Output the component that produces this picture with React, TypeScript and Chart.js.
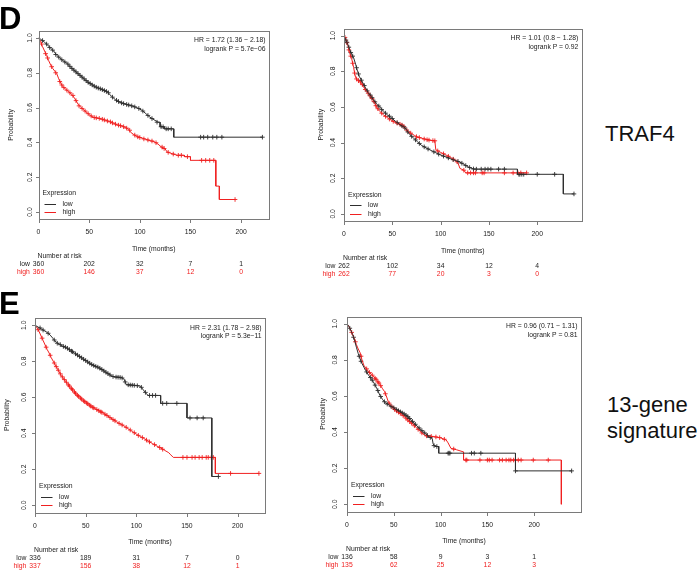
import React, { useEffect, useRef } from "react";
import { Chart, registerables } from "chart.js";

Chart.register(...registerables);

type Pt = [number, number];

// ---------- shared axis data ----------
const X_TICKS = [0, 50, 100, 150, 200];
const Y_TICKS = [0, 0.2, 0.4, 0.6, 0.8, 1.0];
const Y_TICK_LABELS = ["0.0", "0.2", "0.4", "0.6", "0.8", "1.0"];
const GROUP_LABELS = ["low", "high"];

// ---------- Panel D, left (TRAF4) ----------
const dLeftLow: Pt[] = [[0,1],[3,0.99],[6,0.975],[9,0.96],[12,0.94],[15,0.925],[18,0.9],[21,0.885],[24,0.87],[28,0.855],[32,0.83],[36,0.81],[40,0.79],[44,0.77],[48,0.75],[52,0.735],[56,0.72],[60,0.71],[64,0.7],[68,0.69],[72,0.665],[76,0.645],[80,0.63],[86,0.62],[92,0.61],[97,0.6],[102,0.585],[106,0.565],[110,0.545],[114,0.53],[118,0.516],[120,0.516],[120,0.49],[124,0.49],[124,0.478],[133.5,0.478],[133.5,0.43],[221,0.43]];
const dLeftHigh: Pt[] = [[0,1],[2,0.98],[4,0.95],[6,0.925],[8,0.9],[10,0.87],[12,0.845],[14,0.825],[16,0.81],[18,0.795],[20,0.765],[22,0.74],[24,0.72],[27,0.705],[30,0.69],[33,0.675],[36,0.65],[39,0.62],[42,0.6],[45,0.585],[48,0.57],[51,0.555],[54,0.545],[58,0.54],[62,0.535],[66,0.527],[70,0.52],[74,0.51],[78,0.5],[82,0.495],[86,0.485],[89,0.475],[91,0.458],[94,0.445],[98,0.432],[102,0.425],[106,0.418],[110,0.41],[114,0.405],[118,0.39],[121,0.375],[125,0.362],[127,0.345],[132,0.335],[137,0.326],[144,0.326],[144,0.318],[150,0.318],[150,0.297],[175,0.297],[175,0.149],[178.5,0.149],[178.5,0.072],[194,0.072]];
const dLeftLowCens: Pt[] = [[4,0.985],[8,0.965],[11,0.945],[14,0.93],[17,0.905],[20,0.89],[23,0.875],[26,0.862],[29,0.85],[31,0.837],[33,0.825],[35,0.815],[37,0.805],[39,0.795],[41,0.785],[43,0.775],[45,0.765],[47,0.755],[49,0.745],[51,0.738],[53,0.73],[55,0.723],[57,0.717],[59,0.712],[61,0.708],[63,0.703],[65,0.698],[67,0.693],[69,0.685],[73,0.66],[77,0.642],[79,0.635],[82,0.627],[84,0.623],[87,0.618],[89,0.615],[92,0.61],[95,0.604],[99,0.595],[103,0.58],[108,0.555],[112,0.537],[117,0.516],[121,0.49],[123,0.49],[126,0.478],[128,0.478],[131,0.478],[160,0.43],[163,0.43],[167,0.43],[172,0.43],[176,0.43],[181,0.43],[221,0.43]];
const dLeftHighCens: Pt[] = [[3,0.965],[7,0.91],[9,0.885],[13,0.835],[17,0.8],[21,0.75],[23,0.73],[25,0.715],[28,0.7],[31,0.685],[34,0.67],[37,0.64],[40,0.61],[43,0.595],[46,0.58],[49,0.565],[52,0.552],[55,0.543],[57,0.541],[60,0.538],[63,0.533],[65,0.529],[68,0.523],[71,0.518],[73,0.512],[76,0.505],[79,0.499],[81,0.496],[84,0.49],[87,0.482],[90,0.47],[95,0.442],[98,0.432],[100,0.428],[104,0.42],[108,0.414],[112,0.408],[116,0.398],[122,0.373],[124,0.365],[128,0.343],[133,0.333],[138,0.326],[141,0.326],[147,0.318],[161,0.297],[165,0.297],[169,0.297],[173,0.297],[194,0.072]];
const dLeftRiskLow = [360, 202, 32, 7, 1];
const dLeftRiskHigh = [360, 146, 37, 12, 0];
const dLeftStats = ["HR = 1.72 (1.36 \u2212 2.18)", "logrank P = 5.7e\u221206"];

// ---------- Panel D, right (TRAF4) ----------
const dRightLow: Pt[] = [[0,1],[2,0.975],[4,0.95],[6,0.92],[8,0.895],[10,0.875],[12,0.84],[14,0.8],[16,0.77],[19,0.74],[22,0.71],[25,0.68],[28,0.66],[31,0.635],[34,0.615],[37,0.6],[41,0.575],[45,0.555],[49,0.54],[53,0.52],[58,0.5],[62,0.488],[65,0.47],[68,0.445],[72,0.425],[76,0.405],[80,0.385],[85,0.37],[90,0.356],[95,0.343],[100,0.33],[105,0.32],[110,0.31],[115,0.3],[120,0.29],[124,0.278],[128,0.265],[132,0.255],[135,0.251],[179.5,0.251],[179.5,0.222],[227,0.222],[227,0.112],[238,0.112]];
const dRightHigh: Pt[] = [[0,1],[2,0.98],[4,0.945],[6,0.9],[8,0.87],[10,0.82],[11,0.79],[12,0.765],[14,0.75],[16,0.745],[18,0.735],[20,0.715],[23,0.69],[26,0.67],[28,0.655],[30,0.64],[32,0.62],[34,0.595],[37,0.575],[41,0.555],[45,0.54],[49,0.525],[53,0.513],[57,0.505],[61,0.495],[64,0.475],[67,0.46],[70,0.45],[73,0.44],[76,0.43],[80,0.425],[85,0.418],[90,0.412],[94,0.41],[95,0.36],[100,0.345],[105,0.332],[110,0.318],[115,0.3],[118,0.285],[120,0.255],[124,0.245],[126,0.23],[189,0.23]];
const dRightLowCens: Pt[] = [[2,0.975],[3,0.963],[5,0.935],[7,0.905],[9,0.885],[13,0.82],[15,0.785],[18,0.75],[21,0.72],[24,0.69],[27,0.667],[29,0.652],[32,0.628],[36,0.605],[39,0.585],[43,0.565],[47,0.548],[50,0.535],[55,0.512],[60,0.494],[63,0.482],[66,0.46],[70,0.435],[74,0.415],[78,0.395],[83,0.376],[87,0.364],[93,0.348],[98,0.335],[103,0.324],[108,0.314],[113,0.304],[118,0.294],[122,0.284],[126,0.271],[130,0.26],[134,0.252],[137,0.251],[142,0.251],[146,0.251],[149,0.251],[152,0.251],[160,0.251],[166,0.251],[181,0.222],[182,0.222],[184,0.222],[186,0.222],[200,0.222],[218,0.222],[238,0.112]];
const dRightHighCens: Pt[] = [[1,0.99],[3,0.96],[5,0.92],[7,0.885],[9,0.845],[11,0.79],[13,0.757],[15,0.747],[17,0.74],[19,0.725],[22,0.698],[25,0.677],[27,0.662],[29,0.647],[31,0.63],[33,0.607],[35,0.59],[39,0.565],[43,0.547],[47,0.532],[51,0.519],[55,0.509],[58,0.503],[60,0.498],[62,0.49],[65,0.47],[69,0.453],[75,0.433],[78,0.428],[83,0.42],[86,0.416],[88,0.414],[92,0.411],[94,0.41],[97,0.353],[103,0.337],[108,0.323],[113,0.307],[117,0.292],[124,0.245],[128,0.23],[131,0.23],[134,0.23],[136,0.23],[143,0.23],[145,0.23],[166,0.23],[175,0.23],[180,0.23],[183,0.23],[189,0.23]];
const dRightRiskLow = [262, 102, 34, 12, 4];
const dRightRiskHigh = [262, 77, 20, 3, 0];
const dRightStats = ["HR = 1.01 (0.8 \u2212 1.28)", "logrank P = 0.92"];

// ---------- Panel E, left (13-gene signature) ----------
const eLeftLow: Pt[] = [[0,1],[3,0.99],[6,0.98],[9,0.97],[12,0.96],[15,0.945],[18,0.925],[21,0.905],[24,0.895],[27,0.885],[31,0.875],[35,0.86],[39,0.845],[43,0.83],[47,0.815],[51,0.8],[55,0.785],[59,0.773],[63,0.765],[67,0.75],[71,0.735],[75,0.72],[78,0.713],[85,0.71],[88,0.7],[90,0.67],[100,0.665],[104,0.662],[107,0.64],[110,0.62],[111.5,0.61],[124,0.61],[124,0.566],[150,0.566],[150,0.485],[174.5,0.485],[174.5,0.16],[181,0.16]];
const eLeftHigh: Pt[] = [[0,1],[2,0.985],[4,0.965],[6,0.94],[8,0.915],[10,0.89],[12,0.865],[14,0.845],[16,0.82],[18,0.8],[20,0.78],[22,0.76],[24,0.74],[26,0.72],[28,0.705],[30,0.69],[32,0.675],[35,0.655],[38,0.635],[41,0.615],[44,0.6],[47,0.585],[50,0.572],[53,0.56],[56,0.547],[60,0.535],[64,0.522],[68,0.51],[72,0.495],[76,0.48],[80,0.465],[84,0.452],[88,0.44],[92,0.425],[96,0.41],[100,0.395],[104,0.382],[108,0.37],[112,0.355],[116,0.343],[120,0.33],[124,0.318],[128,0.305],[132,0.292],[134,0.28],[136.5,0.266],[178,0.266],[178,0.177],[221,0.177]];
const eLeftLowCens: Pt[] = [[5,0.985],[8,0.973],[13,0.955],[19,0.918],[22,0.9],[25,0.892],[28,0.882],[30,0.878],[32,0.872],[34,0.864],[36,0.856],[37,0.853],[40,0.841],[42,0.834],[44,0.826],[46,0.819],[48,0.811],[50,0.804],[52,0.796],[54,0.789],[56,0.782],[58,0.776],[60,0.771],[62,0.767],[64,0.761],[66,0.754],[68,0.746],[70,0.739],[72,0.731],[74,0.724],[77,0.715],[80,0.712],[82,0.711],[84,0.71],[86,0.707],[89,0.685],[92,0.669],[94,0.668],[96,0.667],[98,0.666],[101,0.664],[105,0.655],[109,0.627],[113,0.61],[116,0.61],[119,0.61],[126,0.566],[130,0.566],[140,0.566],[153,0.485],[160,0.485],[166,0.485],[181,0.16]];
const eLeftHighCens: Pt[] = [[3,0.975],[7,0.928],[11,0.878],[15,0.833],[19,0.79],[21,0.77],[23,0.75],[25,0.73],[27,0.713],[29,0.698],[31,0.683],[33,0.668],[34,0.662],[36,0.648],[37,0.642],[39,0.628],[40,0.622],[42,0.61],[43,0.605],[45,0.595],[46,0.59],[48,0.58],[49,0.576],[51,0.568],[52,0.564],[54,0.556],[55,0.551],[57,0.544],[58,0.541],[61,0.532],[63,0.525],[65,0.519],[66,0.516],[69,0.506],[71,0.499],[74,0.487],[77,0.476],[79,0.469],[83,0.455],[86,0.446],[90,0.433],[94,0.418],[98,0.403],[102,0.388],[106,0.376],[110,0.362],[113,0.352],[118,0.337],[123,0.321],[126,0.311],[146,0.266],[150,0.266],[155,0.266],[158,0.266],[162,0.266],[165,0.266],[169,0.266],[171,0.266],[174,0.266],[176,0.266],[193,0.177],[221,0.177]];
const eLeftRiskLow = [336, 189, 31, 7, 0];
const eLeftRiskHigh = [337, 156, 38, 12, 1];
const eLeftStats = ["HR = 2.31 (1.78 \u2212 2.98)", "logrank P = 5.3e\u221211"];

// ---------- Panel E, right (13-gene signature) ----------
const eRightLow: Pt[] = [[0,1],[2,0.985],[4,0.965],[6,0.94],[8,0.91],[10,0.87],[12,0.835],[14,0.805],[16,0.78],[18,0.76],[20,0.74],[23,0.715],[26,0.695],[29,0.67],[32,0.64],[35,0.605],[38,0.58],[41,0.562],[44,0.553],[48,0.54],[52,0.527],[56,0.515],[60,0.503],[64,0.49],[68,0.47],[72,0.448],[76,0.428],[80,0.408],[84,0.39],[88,0.372],[91,0.365],[92,0.335],[94,0.32],[98,0.32],[98,0.283],[180,0.283],[180,0.185],[240,0.185]];
const eRightHigh: Pt[] = [[0,1],[2,0.985],[4,0.965],[6,0.94],[8,0.915],[10,0.885],[12,0.86],[14,0.84],[16,0.8],[18,0.77],[20,0.755],[23,0.735],[26,0.72],[29,0.705],[32,0.685],[35,0.665],[38,0.64],[40,0.625],[42,0.6],[44,0.57],[47,0.545],[50,0.53],[54,0.513],[58,0.5],[62,0.482],[66,0.462],[70,0.445],[74,0.425],[78,0.405],[81,0.39],[84,0.38],[92,0.375],[100,0.368],[106,0.356],[108,0.34],[111,0.31],[117,0.302],[124.5,0.29],[124.5,0.245],[229,0.245],[229,0]];
const eRightLowCens: Pt[] = [[3,0.975],[7,0.925],[13,0.82],[15,0.792],[21,0.733],[25,0.702],[27,0.687],[30,0.66],[33,0.63],[36,0.597],[40,0.568],[43,0.555],[47,0.543],[50,0.534],[53,0.524],[55,0.518],[57,0.512],[59,0.506],[61,0.5],[63,0.493],[65,0.485],[67,0.475],[70,0.459],[73,0.443],[77,0.423],[80,0.408],[83,0.395],[86,0.381],[89,0.37],[93,0.325],[96,0.32],[108,0.283],[109,0.283],[110,0.283],[133,0.283],[136,0.283],[143,0.283],[180,0.185],[240,0.185]];
const eRightHighCens: Pt[] = [[5,0.952],[9,0.9],[15,0.82],[21,0.75],[24,0.73],[27,0.715],[30,0.698],[31,0.692],[33,0.678],[34,0.672],[36,0.657],[41,0.612],[45,0.56],[48,0.54],[51,0.525],[53,0.517],[55,0.51],[57,0.503],[60,0.491],[63,0.477],[65,0.467],[67,0.458],[69,0.449],[72,0.435],[76,0.415],[80,0.395],[85,0.379],[90,0.376],[95,0.373],[99,0.369],[104,0.36],[114,0.306],[127,0.245],[128,0.245],[142,0.245],[150,0.245],[152,0.245],[155,0.245],[163,0.245],[166,0.245],[170,0.245],[173,0.245],[175,0.245],[178,0.245],[180,0.245],[183,0.245],[186,0.245],[199,0.245],[215,0.245]];
const eRightRiskLow = [136, 58, 9, 3, 1];
const eRightRiskHigh = [135, 62, 25, 12, 3];
const eRightStats = ["HR = 0.96 (0.71 \u2212 1.31)", "logrank P = 0.81"];

// ---------- styling ----------
const FONT = '"Liberation Sans", Arial, Helvetica, sans-serif';
const SMALL = `6.8px ${FONT}`;
const TEXT = "#222";
const BOX = "#7a7a7a";
const LOW_COL = "#2e2e2e";
const HIGH_COL = "#f02020";

type PanelSpec = {
  cx: number; cy: number; w: number; h: number;
  L: number; T: number; R: number; B: number; xMax: number;
  yLab: number; probX: number;
  low: Pt[]; high: Pt[]; lowCens: Pt[]; highCens: Pt[];
  riskLow: number[]; riskHigh: number[]; stats: string[];
};

const PANELS: PanelSpec[] = [
  { cx: 0, cy: 0, w: 300, h: 280, L: 38.5, T: 31, R: 269, B: 219, xMax: 227.5, yLab: 8.5, probX: 27,
    low: dLeftLow, high: dLeftHigh, lowCens: dLeftLowCens, highCens: dLeftHighCens,
    riskLow: dLeftRiskLow, riskHigh: dLeftRiskHigh, stats: dLeftStats },
  { cx: 300, cy: 0, w: 300, h: 280, L: 344, T: 28.5, R: 581.7, B: 221, xMax: 246, yLab: 10.5, probX: 23,
    low: dRightLow, high: dRightHigh, lowCens: dRightLowCens, highCens: dRightHighCens,
    riskLow: dRightRiskLow, riskHigh: dRightRiskHigh, stats: dRightStats },
  { cx: 0, cy: 280, w: 300, h: 291, L: 35, T: 318, R: 265, B: 512.5, xMax: 227, yLab: 10.5, probX: 28,
    low: eLeftLow, high: eLeftHigh, lowCens: eLeftLowCens, highCens: eLeftHighCens,
    riskLow: eLeftRiskLow, riskHigh: eLeftRiskHigh, stats: eLeftStats },
  { cx: 300, cy: 280, w: 300, h: 291, L: 347, T: 316.5, R: 581, B: 511.5, xMax: 250, yLab: 11.5, probX: 24,
    low: eRightLow, high: eRightHigh, lowCens: eRightLowCens, highCens: eRightHighCens,
    riskLow: eRightRiskLow, riskHigh: eRightRiskHigh, stats: eRightStats },
];

const toXY = (pts: Pt[]) => pts.map(([x, y]) => ({ x, y }));

function makeDecor(spec: PanelSpec) {
  return {
    id: "kmDecor",
    afterDraw(chart: any) {
      const ctx: CanvasRenderingContext2D = chart.ctx;
      const xs = chart.scales.x;
      const ys = chart.scales.y;
      const a = chart.chartArea;
      const l = Math.round(a.left) + 0.5;
      const t = Math.round(a.top) + 0.5;
      const r = Math.round(a.right) + 0.5;
      const b = Math.round(a.bottom) + 0.5;
      ctx.save();
      ctx.strokeStyle = BOX;
      ctx.lineWidth = 1;
      ctx.strokeRect(l, t, r - l, b - t);
      ctx.font = SMALL;
      ctx.fillStyle = TEXT;
      ctx.textAlign = "center";
      ctx.textBaseline = "middle";
      ctx.beginPath();
      X_TICKS.forEach((v) => {
        const px = Math.round(xs.getPixelForValue(v)) + 0.5;
        ctx.moveTo(px, b);
        ctx.lineTo(px, b + 3.5);
      });
      Y_TICKS.forEach((v) => {
        const py = Math.round(ys.getPixelForValue(v)) + 0.5;
        ctx.moveTo(l, py);
        ctx.lineTo(l - 3.5, py);
      });
      ctx.stroke();
      X_TICKS.forEach((v) => {
        ctx.fillText(String(v), xs.getPixelForValue(v), a.bottom + 13.5);
      });
      Y_TICKS.forEach((v, i) => {
        ctx.save();
        ctx.translate(a.left - spec.yLab, ys.getPixelForValue(v));
        ctx.rotate(-Math.PI / 2);
        ctx.fillText(Y_TICK_LABELS[i], 0, 0);
        ctx.restore();
      });
      ctx.fillText("Time (months)", (a.left + a.right) / 2, a.bottom + 30);
      ctx.save();
      ctx.translate(a.left - spec.probX, (a.top + a.bottom) / 2);
      ctx.rotate(-Math.PI / 2);
      ctx.fillText("Probability", 0, 0);
      ctx.restore();
      ctx.textAlign = "right";
      const y1 = ys.getPixelForValue(1);
      ctx.fillText(spec.stats[0], a.right - 3.5, y1 + 2.5);
      ctx.fillText(spec.stats[1], a.right - 3.5, y1 + 11);
      const y0 = ys.getPixelForValue(0);
      ctx.textAlign = "left";
      ctx.fillText("Expression", a.left + 4, y0 - 19);
      const legendRows: [string, string, number][] = [
        [GROUP_LABELS[0], LOW_COL, y0 - 8.4],
        [GROUP_LABELS[1], HIGH_COL, y0],
      ];
      legendRows.forEach(([lab, col, yy]) => {
        ctx.strokeStyle = col;
        ctx.beginPath();
        const py = Math.round(yy) + 0.5;
        ctx.moveTo(a.left + 6, py);
        ctx.lineTo(a.left + 17.5, py);
        ctx.stroke();
        ctx.fillStyle = TEXT;
        ctx.fillText(lab, a.left + 24, yy);
      });
      ctx.fillStyle = TEXT;
      ctx.textAlign = "left";
      ctx.fillText("Number at risk", a.left - 1, a.bottom + 37.5);
      const rows: [string, number[], string, number][] = [
        [GROUP_LABELS[0], spec.riskLow, TEXT, a.bottom + 45.5],
        [GROUP_LABELS[1], spec.riskHigh, HIGH_COL, a.bottom + 53.5],
      ];
      rows.forEach(([lab, vals, col, yy]) => {
        ctx.fillStyle = col;
        ctx.textAlign = "center";
        vals.forEach((v, i) => {
          ctx.fillText(String(v), xs.getPixelForValue(X_TICKS[i]), yy);
        });
        const w0 = ctx.measureText(String(vals[0])).width;
        ctx.textAlign = "right";
        ctx.fillText(lab, xs.getPixelForValue(0) - w0 / 2 - 3, yy);
      });
      ctx.restore();
    },
  };
}

function KMPanel({ spec }: { spec: PanelSpec }) {
  const ref = useRef<HTMLCanvasElement | null>(null);
  useEffect(() => {
    const canvas = ref.current;
    if (!canvas) return;
    const chart = new Chart(canvas, {
      type: "line",
      data: {
        datasets: [
          { label: "low", data: toXY(spec.low), borderColor: LOW_COL, borderWidth: 1, pointRadius: 0, fill: false, tension: 0 },
          { label: "high", data: toXY(spec.high), borderColor: HIGH_COL, borderWidth: 1, pointRadius: 0, fill: false, tension: 0 },
          { label: "low censored", data: toXY(spec.lowCens), showLine: false, pointStyle: "cross", pointRadius: 2.3, borderColor: LOW_COL, backgroundColor: LOW_COL, pointBorderWidth: 0.9 },
          { label: "high censored", data: toXY(spec.highCens), showLine: false, pointStyle: "cross", pointRadius: 2.3, borderColor: HIGH_COL, backgroundColor: HIGH_COL, pointBorderWidth: 0.9 },
        ],
      } as any,
      options: {
        animation: false,
        responsive: false,
        maintainAspectRatio: false,
        devicePixelRatio: 1,
        layout: {
          padding: {
            left: spec.L - spec.cx,
            top: spec.T - spec.cy,
            right: spec.cx + spec.w - spec.R,
            bottom: spec.cy + spec.h - spec.B,
          },
        },
        scales: {
          x: { type: "linear", min: 0, max: spec.xMax, display: false },
          y: { type: "linear", min: -0.04, max: 1.04, display: false },
        },
        plugins: { legend: { display: false }, tooltip: { enabled: false } },
      } as any,
      plugins: [makeDecor(spec)],
    });
    return () => chart.destroy();
  }, [spec]);
  return (
    <canvas
      ref={ref}
      width={spec.w}
      height={spec.h}
      style={{ position: "absolute", left: spec.cx, top: spec.cy, width: spec.w, height: spec.h }}
    />
  );
}

export default function App() {
  return (
    <div style={{ position: "absolute", left: 0, top: 0, width: 698, height: 571, background: "#fff", overflow: "hidden", fontFamily: FONT }}>
      {PANELS.map((p, i) => (
        <KMPanel key={i} spec={p} />
      ))}
      <div style={{ position: "absolute", left: -1, top: 3, fontSize: 31, lineHeight: "31px", fontWeight: "bold", color: "#000" }}>D</div>
      <div style={{ position: "absolute", left: -1, top: 288, fontSize: 31, lineHeight: "31px", fontWeight: "bold", color: "#000" }}>E</div>
      <div style={{ position: "absolute", left: 605, top: 123, fontSize: 22, lineHeight: "22px", color: "#111" }}>TRAF4</div>
      <div style={{ position: "absolute", left: 607, top: 392, fontSize: 22, lineHeight: "25.6px", color: "#111", whiteSpace: "nowrap" }}>
        13-gene<br />signature
      </div>
    </div>
  );
}
